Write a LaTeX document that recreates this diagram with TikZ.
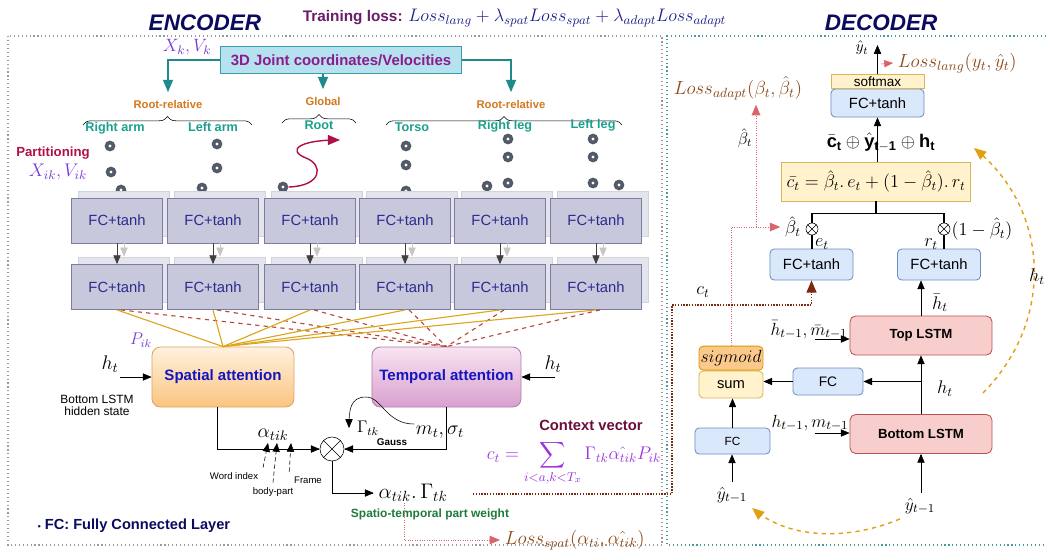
\RequirePackage{fix-cm}
\documentclass[tikz,border=0pt]{standalone}
\usepackage{amsmath,amssymb}
\usepackage{fontspec}
\setmainfont{Liberation Sans}
\usepackage{xcolor}
\usepackage{tikz}
\usetikzlibrary{arrows,positioning,shapes,calc,decorations.pathreplacing}

\definecolor{navy}{HTML}{0B0B5E}
\definecolor{losspurple}{HTML}{6A1B6A}
\definecolor{lossnavy}{HTML}{1C1C8C}
\definecolor{jointfill}{HTML}{B6E1EE}
\definecolor{jointline}{HTML}{3C9BAE}
\definecolor{jointtext}{HTML}{8B1C8E}
\definecolor{tealarrow}{HTML}{1F8A8A}
\definecolor{grouporange}{HTML}{D2781E}
\definecolor{partteal}{HTML}{1AA08E}
\definecolor{rootred}{HTML}{B0104A}
\definecolor{symviolet}{HTML}{7B3AD6}
\definecolor{dotgray}{HTML}{525A68}
\definecolor{fcfill}{HTML}{C8C8DC}
\definecolor{fcline}{HTML}{7C7C9E}
\definecolor{fctext}{HTML}{2B2B8F}
\definecolor{ghostfill}{HTML}{E4E4EC}
\definecolor{ghostline}{HTML}{D2D2DC}
\definecolor{goldline}{HTML}{DCA51C}
\definecolor{reddash}{HTML}{B5473C}
\definecolor{spattop}{HTML}{FFF1DF}
\definecolor{spatbot}{HTML}{FAC47F}
\definecolor{spatline}{HTML}{DDA560}
\definecolor{temptop}{HTML}{F9E3F1}
\definecolor{tempbot}{HTML}{D8A0CF}
\definecolor{templine}{HTML}{B07FAA}
\definecolor{attblue}{HTML}{1414C0}
\definecolor{stgreen}{HTML}{1E7A3A}
\definecolor{lossbrown}{HTML}{8B4A1A}
\definecolor{pinkred}{HTML}{D9646A}
\definecolor{ctdot}{HTML}{7A2A12}
\definecolor{ctxmaroon}{HTML}{6B0F3A}
\definecolor{ctxpurple}{HTML}{9B35E0}
\definecolor{decfill}{HTML}{DAE8FC}
\definecolor{decline}{HTML}{6C8EBF}
\definecolor{yelfill}{HTML}{FFF2CC}
\definecolor{yelline}{HTML}{D6B656}
\definecolor{lstmfill}{HTML}{F8CECC}
\definecolor{lstmline}{HTML}{B85450}
\definecolor{sigfill}{HTML}{FCC98C}
\definecolor{sigline}{HTML}{D79B00}
\definecolor{golddash}{HTML}{E0A010}
\definecolor{framegray}{HTML}{9A9A9A}
\definecolor{frameteal}{HTML}{4A9A9A}

\newcommand{\fsz}[1]{\fontsize{#1}{#1}\selectfont}

\begin{document}
\begin{tikzpicture}[x=0.025cm,y=-0.025cm,>=triangle 45,
	fc node/.style={rectangle,draw=fcline,fill=fcfill,line width=0.6pt,inner sep=0pt,
		minimum width=2.275cm,minimum height=1.125cm,text=fctext,font=\fsz{10.5}},
	ghost node/.style={rectangle,draw=ghostline,fill=ghostfill,
		minimum width=2.275cm,minimum height=1.125cm},
	att node/.style={rounded corners=6pt,inner sep=0pt,line width=0.6pt,
		minimum height=1.5cm,text=attblue,font=\bfseries\fsz{10.7}},
	dec node/.style={rounded corners=3pt,draw=decline,fill=decfill,line width=0.6pt,
		inner sep=0pt,font=\fsz{10.5}},
	lstm node/.style={rounded corners=4pt,draw=lstmline,fill=lstmfill,line width=0.6pt,
		inner sep=0pt,minimum width=3.55cm,minimum height=0.975cm,font=\bfseries\fsz{9.4}},
	joint/.style={circle,fill=dotgray,inner sep=0pt,minimum size=0.27cm,
		path picture={\fill[white] (path picture bounding box.center) circle (0.04cm);}},
	part/.style={text=partteal,font=\bfseries\fsz{9}},
	group/.style={text=grouporange,font=\bfseries\fsz{8}},
	brace/.style={decorate,decoration={brace,amplitude=6pt}},
	pinkdot/.style={pinkred,densely dotted,line width=0.7pt},
	golddashed/.style={golddash,dashed,line width=1pt}]

\useasboundingbox (0,0) rectangle (1046,549);

% frames and titles
\draw[dotted,line width=0.8pt,framegray] (8,36) rectangle (662,545);
\draw[dotted,line width=0.8pt,frameteal] (1046,36) -- (667,36) -- (667,545) -- (1046,545);
\node[text=navy,font=\bfseries\itshape\fsz{16}] (enc) at (205,23) {ENCODER};
\node[text=navy,font=\bfseries\itshape\fsz{16}] (dec) at (881,23) {DECODER};
\node[anchor=west,text=losspurple,font=\bfseries\fsz{10.9}] (tloss) at (298,18)
	{Training loss: \textcolor{lossnavy}{\fsz{12.9}$Loss_{lang}+\lambda_{spat}Loss_{spat}+\lambda_{adapt}Loss_{adapt}$}};

% input and body parts
\node[draw=jointline,fill=jointfill,line width=0.6pt,minimum width=6.025cm,minimum height=0.675cm,
	text=jointtext,font=\bfseries\fsz{10.6}] (jbox) at (341,60) {3D Joint coordinates/Velocities};
\node[text=symviolet,font=\fsz{12.7}] (xk) at (187,47) {$X_k, V_k$};

\node[group] (rrl) at (168,104) {Root-relative};
\node[group] (glob) at (323,101) {Global};
\node[group] (rrr) at (511,104) {Root-relative};
\draw[->,tealarrow,line width=1pt,shorten >=2pt] (jbox.west) -| (rrl.north);
\draw[->,tealarrow,line width=1pt,shorten >=2pt] (jbox.south -| glob.north) -- (glob.north);
\draw[->,tealarrow,line width=1pt,shorten >=2pt] (jbox.east) -| (rrr.north);

\draw[brace] (83,125) -- (252,125);
\draw[brace] (282,123) -- (356,123);
\draw[brace] (386,125) -- (622,125);

\node[part] (rarm) at (115,128) {Right arm};
\node[part] (larm) at (213,127) {Left arm};
\node[part] (root) at (319,125) {Root};
\node[part] (torso) at (412,127) {Torso};
\node[part] (rleg) at (505,126) {Right leg};
\node[part] (lleg) at (593,125) {Left leg};

\node[text=rootred,font=\bfseries\fsz{9.4}] (parti) at (53,153) {Partitioning};
\node[text=symviolet,font=\fsz{13}] (xik) at (58,172) {$X_{ik}, V_{ik}$};

\foreach \x/\y [count=\i] in {110/146,111/172,121/190,217/144,217/168,202/188,283/187,
	406/146,406/165,406/191,508/139,508/157,487/186,508/183,593/139,593/157,593/183,619/185}
	\node[joint] (j\i) at (\x,\y) {};
\coordinate (rootend) at (340,140);
\draw[->,rootred,line width=1pt] (j7.east) .. controls (322,186) and (324,165) .. (306,158)
	.. controls (286,150) and (300,140) .. (rootend);

% FC layers
\foreach \x [count=\i] in {117,213,310,405,500,596}{
	\node[ghost node] (gA\i) at (\x+7,214) {};
	\node[ghost node] (gB\i) at (\x+7,280) {};
	\node[fc node] (fcA\i) at (\x,220.5) {FC+tanh};
	\node[fc node] (fcB\i) at (\x,287) {FC+tanh};
	\draw[->,gray!45] ([xshift=0.175cm]fcA\i.south) -- ++(0,13);
	\draw[->,darkgray] (fcA\i) -- (fcB\i);
}

% attention
\node[att node,top color=spattop,bottom color=spatbot,draw=spatline,minimum width=3.55cm] (spat) at (223,377) {Spatial attention};
\node[att node,top color=temptop,bottom color=tempbot,draw=templine,minimum width=3.725cm] (temp) at (446.5,377) {Temporal attention};
\foreach \i in {1,...,6}{
	\draw[goldline,line width=0.8pt] (fcB\i.south) -- (spat.north);
	\draw[reddash,dashed,line width=0.8pt] ([xshift=0.1cm]fcB\i.south) -- (temp.north);
}
\node[text=symviolet,font=\fsz{12}] (pik) at (141,340) {$P_{ik}$};

\node[font=\fsz{14}] (htl) at (110,364) {$h_t$};
\coordinate (htlin) at (120,377);
\draw[->] (htlin) -- (spat.west);
\node[font=\fsz{14}] (htr) at (553,364) {$h_t$};
\coordinate (htrin) at (555,377);
\draw[->] (htrin) -- (temp.east);
\node[align=center,font=\fsz{8.5}] (bhs) at (97,405) {Bottom LSTM\\hidden state};

\node[circle,draw,inner sep=0pt,minimum size=0.6cm] (mul) at (332,449) {};
\draw (mul.north west) -- (mul.south east) (mul.north east) -- (mul.south west);
\draw[->] ([xshift=-0.15cm]spat.south) |- (mul.west);
\draw[->] (temp.south) |- (mul.east);

\node[font=\fsz{14}] (alpha) at (273,435) {$\alpha_{tik}$};
\node[font=\fsz{6.8}] (widx) at (234,476) {Word index};
\node[font=\fsz{6.8}] (bpart) at (273,492) {body-part};
\node[font=\fsz{6.8}] (frame) at (308,480) {Frame};
\coordinate (ai) at (268,443);
\coordinate (ak) at (277,443);
\coordinate (af) at (291,443);
\draw[->,densely dashed,thin] (widx.north east) -- (ai);
\draw[->,densely dashed,thin] (bpart.north) -- (ak);
\draw[->,densely dashed,thin] (frame.north west) -- (af);

\node[font=\fsz{14}] (mt) at (440,432) {$m_t,\sigma_t$};
\node[font=\fsz{12}] (gam) at (368,428) {$\Gamma_{tk}$};
\node[font=\bfseries\fsz{7}] (gauss) at (392,442) {Gauss};
\coordinate (gstart) at (414,424);
\draw[->] (gstart) .. controls (386,424) and (382,397) .. (366,397) .. controls (350,397) and (349,410) .. (349,428);

\node[font=\fsz{15}] (ag) at (413,493) {$\alpha_{tik}.\,\Gamma_{tk}$};
\draw[->] (mul.south) |- (ag.west);
\node[text=stgreen,font=\bfseries\fsz{8.5}] (stw) at (430,514) {Spatio-temporal part weight};
\node[text=lossbrown,font=\fsz{13.5},anchor=west] (lspat) at (500,540) {$Loss_{spat}(\alpha_{ti},\hat{\alpha_{tik}})$};
\coordinate (lsp) at (404,503);
\draw[->,pinkdot] (lsp) |- (lspat.west);

\node[text=navy,font=\bfseries\fsz{10.4}] (legend) at (134,526) {{\fsz{6}\textbullet}\ FC: Fully Connected Layer};

\node[text=ctxmaroon,font=\bfseries\fsz{10.5}] (ctxl) at (591,425) {Context vector};
\node[text=ctxpurple,font=\fsz{13}] (ctx) at (574,463) {$c_t = \displaystyle\sum_{i<a,k<T_x}\Gamma_{tk}\hat{\alpha_{tik}}P_{ik}$};

% decoder
\node[dec node,minimum width=2.325cm,minimum height=0.7cm] (fcT) at (877.5,103) {FC+tanh};
\node[draw=yelline,fill=yelfill,line width=0.6pt,inner sep=0pt,minimum width=2.325cm,minimum height=0.34cm,
	font=\fsz{9.6}] (soft) [above=0pt of fcT] {softmax};
\coordinate (yt) at (877.5,45);
\draw[->] (soft.north) -- (yt);
\node[font=\fsz{11}] (ythat) at (862,48) {$\hat{y}_t$};
\node[text=lossbrown,font=\fsz{13.5},anchor=west] (llang) at (893,63) {$Loss_{lang}(y_t,\hat{y}_t)$};
\coordinate (ll) at (881,64);
\draw[->,pinkred,densely dashed] (ll) -- (llang.west);

\node[font=\fsz{13}] (catv) at (881,142) {$\bar{\mathbf{c}}_{\mathbf{t}}\oplus\hat{\mathbf{y}}_{\mathbf{t-1}}\oplus\mathbf{h}_{\mathbf{t}}$};
\node[draw=yelline,fill=yelfill,line width=0.6pt,minimum width=4.5cm,minimum height=0.975cm,
	font=\fsz{13}] (cbar) at (876,181.5) {$\bar{c_t} = \hat{\beta}_t.\,e_t + (1-\hat{\beta}_t).\,r_t$};
\draw[->] (cbar.north -| fcT.south) -- (fcT.south);

\node[dec node,minimum width=2.075cm,minimum height=0.775cm] (fcL) at (811.5,264.5) {FC+tanh};
\node[dec node,minimum width=2.075cm,minimum height=0.775cm] (fcR) at (939,264.5) {FC+tanh};
\node[circle,draw,inner sep=0pt,minimum size=0.3cm] (omL) at (812,229) {};
\node[circle,draw,inner sep=0pt,minimum size=0.3cm] (omR) at (944,229) {};
\draw (omL.north west) -- (omL.south east) (omL.north east) -- (omL.south west);
\draw (omR.north west) -- (omR.south east) (omR.north east) -- (omR.south west);
\draw[line width=0.8pt] (cbar.south) -- ++(0,12) coordinate (tj);
\draw[line width=0.8pt] (omL.north) |- (tj) -| (omR.north);
\draw[line width=0.8pt] (omL.south) -- (omL.south |- fcL.north);
\draw[line width=0.8pt] (omR.south) -- (omR.south |- fcR.north);
\node[font=\fsz{13}] (bL) at (793,227) {$\hat{\beta}_t$};
\node[font=\fsz{13}] (bR) at (982,229) {$(1-\hat{\beta}_t)$};
\node[font=\fsz{13}] (et) at (822,244) {$e_t$};
\node[font=\fsz{13}] (rt) at (931,244) {$r_t$};

\node[lstm node] (toplstm) at (921,335.5) {Top LSTM};
\node[lstm node] (botlstm) at (921,434) {Bottom LSTM};
\draw[->] (botlstm) -- (toplstm);
\draw[->] (toplstm.north) -- (toplstm.north |- fcR.south);
\node[font=\fsz{13}] (hbar) at (940,303) {$\bar{h}_t$};
\node[font=\fsz{13}] (ht2) at (945,389) {$h_t$};

\node[dec node,minimum width=1.75cm,minimum height=0.675cm,font=\fsz{9.8}] (fcM) at (828,381.5) {FC};
\node[draw=yelline,fill=yelfill,rounded corners=3pt,line width=0.6pt,minimum width=1.6cm,minimum height=0.675cm,
	inner sep=0pt,font=\fsz{10.5}] (sum) at (731,384.5) {sum};
\node[draw=sigline,fill=sigfill,rounded corners=3pt,line width=0.6pt,minimum width=1.6cm,minimum height=0.6cm,
	inner sep=0pt,font=\fsz{12.5}] (sig) [above=0pt of sum] {$sigmoid$};
\node[dec node,minimum width=1.875cm,minimum height=0.65cm,font=\fsz{8.4}] (fcS) at (732.5,441) {FC};
\draw[->] (fcM.west) -- (fcM.west -| sum.east);
\draw[->] (botlstm.north |- fcM.east) -- (fcM.east);
\draw[->] (fcS.north) -- (fcS.north |- sum.south);

\node[font=\fsz{12.5}] (hmb) at (809,330) {$\bar{h}_{t-1},\bar{m}_{t-1}$};
\coordinate (hmbin) at (815,339);
\draw[->] (hmbin) -- (hmbin -| toplstm.west);
\node[font=\fsz{12.5}] (hm) at (810,423) {$h_{t-1},m_{t-1}$};
\coordinate (hmin) at (815,433);
\draw[->] (hmin) -- (hmin -| botlstm.west);

\node[font=\fsz{12.4}] (yl) at (732,495) {$\hat{y}_{t-1}$};
\node[font=\fsz{12.4}] (yr) at (920,506) {$\hat{y}_{t-1}$};
\draw[->] (yl.north) -- (yl.north |- fcS.south);
\draw[->] (yr.north -| botlstm.south) -- (botlstm.south);
\draw[->,golddashed] (yr.south west) .. controls (850,540) and (790,540) .. (yl.south east);
\coordinate (hs) at (983,393);
\coordinate (he) at (974,148);
\draw[->,golddashed] (hs) .. controls (1055,320) and (1050,210) .. (he);
\node[font=\fsz{13}] (ht3) at (1037,277) {$h_t$};

% loss / gate paths
\node[text=lossbrown,font=\fsz{13.5}] (lossa) at (738,88) {$Loss_{adapt}(\beta_t,\hat{\beta}_t)$};
\node[font=\fsz{12}] (bh) at (745,138) {$\hat{\beta}_t$};
\coordinate (bsplit) at (756,227);
\draw[->,pinkdot] (sig.north) |- (bL.west);
\draw[->,pinkdot] (bsplit) -- (bsplit |- lossa.south);

\node[font=\fsz{13}] (ctl) at (703,292) {$c_t$};
\coordinate (cst) at (473,494);
\coordinate (ctc) at (672,305);
\draw[->,ctdot,densely dotted,line width=1pt] (cst) -| (ctc) -| (fcL.south);

\end{tikzpicture}
\end{document}
